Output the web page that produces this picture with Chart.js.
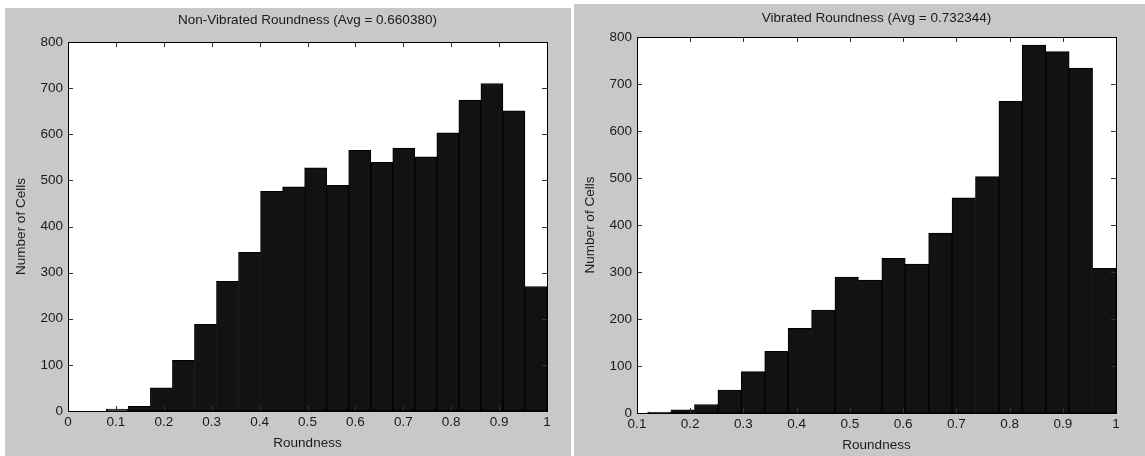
<!DOCTYPE html>
<html>
<head>
<meta charset="utf-8">
<script src="https://cdn.jsdelivr.net/npm/chart.js@4/dist/chart.umd.min.js"></script>
<style>
  body { margin: 0; background: #fff; width: 1145px; height: 456px; position: relative; overflow: hidden; }
  .panel { position: absolute; background: #c8c8c8; }
  #leftPanel { left: 5px; top: 8px; width: 566px; height: 448px; }
  #rightPanel { left: 574px; top: 4px; width: 571px; height: 452px; }
</style>
</head>
<body>
<div class="panel" id="leftPanel"><canvas id="leftChart" width="566" height="448"></canvas></div>
<div class="panel" id="rightPanel"><canvas id="rightChart" width="571" height="452"></canvas></div>
<script>
// bin centres (MATLAB hist, 20 bins) and counts
const leftCenters = [0.103, 0.149, 0.195, 0.241, 0.287, 0.333, 0.379, 0.425, 0.471, 0.517,
                     0.563, 0.609, 0.655, 0.701, 0.747, 0.793, 0.839, 0.885, 0.931, 0.977];
const leftCounts = [4, 10, 50, 110, 188, 281, 344, 476, 486, 527,
                    489, 565, 539, 570, 551, 603, 674, 710, 651, 270];

const rightCenters = [0.142, 0.186, 0.230, 0.274, 0.318, 0.362, 0.406, 0.450, 0.494, 0.538,
                      0.582, 0.626, 0.670, 0.714, 0.758, 0.802, 0.846, 0.890, 0.934, 0.978];
const rightCounts = [2, 7, 18, 49, 88, 131, 180, 219, 289, 283,
                     329, 317, 383, 458, 503, 663, 783, 769, 734, 308];

const leftXTicks = [0, 0.1, 0.2, 0.3, 0.4, 0.5, 0.6, 0.7, 0.8, 0.9, 1];
const leftXLabels = ['0', '0.1', '0.2', '0.3', '0.4', '0.5', '0.6', '0.7', '0.8', '0.9', '1'];
const rightXTicks = [0.1, 0.2, 0.3, 0.4, 0.5, 0.6, 0.7, 0.8, 0.9, 1];
const rightXLabels = ['0.1', '0.2', '0.3', '0.4', '0.5', '0.6', '0.7', '0.8', '0.9', '1'];
const yTicks = [0, 100, 200, 300, 400, 500, 600, 700, 800];

const FONT = { family: '"Liberation Sans", Arial, Helvetica, sans-serif', size: 13.5 };
const TEXT = '#1a1a1a';

// white axes background, box and inward ticks like MATLAB
const matlabBox = {
    id: 'matlabBox',
    beforeDatasetsDraw(chart) {
        const { ctx, chartArea: a } = chart;
        ctx.save();
        ctx.fillStyle = '#fff';
        ctx.fillRect(a.left, a.top, a.right - a.left, a.bottom - a.top);
        ctx.restore();
    },
    afterDatasetsDraw(chart) {
        const { ctx, chartArea: a, scales: { x, y } } = chart;
        const len = 5;
        ctx.save();
        ctx.strokeStyle = '#333';
        ctx.lineWidth = 1;
        ctx.beginPath();
        x.ticks.forEach(t => {
            const px = Math.round(x.getPixelForValue(t.value)) + 0.5;
            ctx.moveTo(px, a.bottom); ctx.lineTo(px, a.bottom - len);
            ctx.moveTo(px, a.top); ctx.lineTo(px, a.top + len);
        });
        y.ticks.forEach(t => {
            const py = Math.round(y.getPixelForValue(t.value)) + 0.5;
            ctx.moveTo(a.left, py); ctx.lineTo(a.left + len, py);
            ctx.moveTo(a.right, py); ctx.lineTo(a.right - len, py);
        });
        ctx.stroke();
        ctx.strokeStyle = '#000';
        ctx.strokeRect(Math.round(a.left) + 0.5, Math.round(a.top) + 0.5,
                       Math.round(a.right - a.left), Math.round(a.bottom - a.top));
        ctx.restore();
    }
};

function makeHist(id, centers, counts, xTicks, xLabels, cfg) {
    const ctx = document.getElementById(id).getContext('2d');
    return new Chart(ctx, {
        type: 'bar',
        data: {
            datasets: [{
                data: centers.map((c, i) => ({ x: c, y: counts[i] })),
                backgroundColor: '#121212',
                borderColor: '#000',
                borderWidth: 1,
                borderSkipped: false,
                barPercentage: 1.0,
                categoryPercentage: 1.0
            }]
        },
        options: {
            responsive: false,
            animation: false,
            layout: { padding: { left: 0, right: cfg.padRight, top: 0, bottom: 0 } },
            plugins: {
                legend: { display: false },
                tooltip: { enabled: false },
                title: {
                    display: true,
                    fullSize: false,
                    text: cfg.title,
                    color: TEXT,
                    font: { ...FONT, weight: 'normal' },
                    padding: cfg.titlePad
                }
            },
            scales: {
                x: {
                    type: 'linear',
                    min: xTicks[0],
                    max: 1,
                    offset: false,
                    afterBuildTicks: s => { s.ticks = xTicks.map(v => ({ value: v })); },
                    afterFit: s => { s.height = cfg.xHeight; },
                    grid: { display: false, drawTicks: false },
                    border: { display: false },
                    ticks: { color: TEXT, font: FONT, padding: 3, maxRotation: 0, autoSkip: false,
                             callback: (v, i) => xLabels[i] },
                    title: { display: true, text: 'Roundness', color: TEXT, font: FONT,
                             padding: { top: 0, bottom: cfg.xTitleBottom } }
                },
                y: {
                    min: 0,
                    max: 800,
                    afterBuildTicks: s => { s.ticks = yTicks.map(v => ({ value: v })); },
                    afterFit: s => { s.width = cfg.yWidth; },
                    grid: { display: false, drawTicks: false },
                    border: { display: false },
                    ticks: { color: TEXT, font: FONT, padding: 5 },
                    title: { display: true, text: 'Number of Cells', color: TEXT, font: FONT,
                             padding: { top: 8, bottom: 0 } }
                }
            }
        },
        plugins: [matlabBox]
    });
}

makeHist('leftChart', leftCenters, leftCounts, leftXTicks, leftXLabels, {
    title: 'Non-Vibrated Roundness (Avg = 0.660380)',
    padRight: 24, yWidth: 63, xHeight: 45, xTitleBottom: 5,
    titlePad: { top: 4, bottom: 13.8 }
});

makeHist('rightChart', rightCenters, rightCounts, rightXTicks, rightXLabels, {
    title: 'Vibrated Roundness (Avg = 0.732344)',
    padRight: 29, yWidth: 63, xHeight: 43, xTitleBottom: 3,
    titlePad: { top: 6, bottom: 10.8 }
});
</script>
</body>
</html>
